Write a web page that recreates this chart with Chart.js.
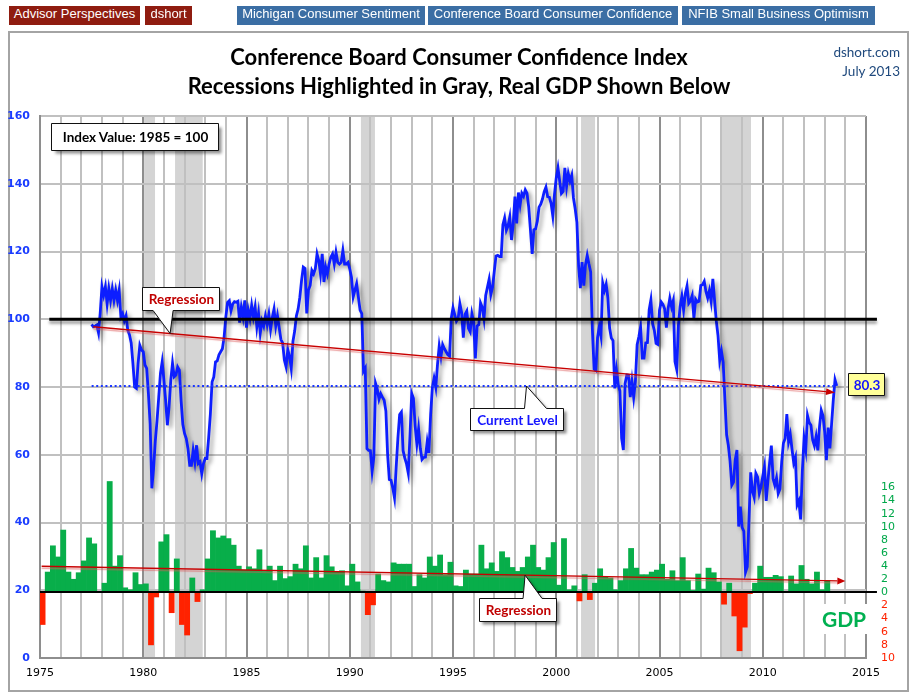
<!DOCTYPE html>
<html>
<head>
<meta charset="utf-8">
<script src="https://cdn.jsdelivr.net/npm/chart.js@4.4.1/dist/chart.umd.min.js"></script>
<style>
html,body{margin:0;padding:0;background:#fff;}
#wrap{position:relative;width:916px;height:694px;overflow:hidden;}
#c{position:absolute;left:0;top:0;}
.btn{position:absolute;top:6px;height:19px;line-height:19px;color:#fff;font:13px "Liberation Sans",Arial,sans-serif;text-align:center;white-space:nowrap;}
.red{background:#8f1c10;}
.blue{background:#3b6ea4;}
.title{position:absolute;left:0;width:918px;text-align:center;font:bold 22px Lato,sans-serif;line-height:26px;color:#000;white-space:nowrap;}
.src{position:absolute;right:16px;font:13.5px Lato,sans-serif;line-height:16px;color:#1f497d;text-align:right;white-space:nowrap;}
.lbl{position:absolute;text-align:center;font:bold 13.5px Lato,sans-serif;white-space:nowrap;}
</style>
</head>
<body>
<div id="wrap">
<canvas id="c" width="916" height="694"></canvas>
<div class="btn red" style="left:9px;width:131px;">Advisor Perspectives</div>
<div class="btn red" style="left:145px;width:47px;">dshort</div>
<div class="btn blue" style="left:237px;width:188px;">Michigan Consumer Sentiment</div>
<div class="btn blue" style="left:428px;width:250px;">Conference Board Consumer Confidence</div>
<div class="btn blue" style="left:682px;width:193px;">NFIB Small Business Optimism</div>
<div class="title" style="top:44px;">Conference Board Consumer Confidence Index</div>
<div class="title" style="top:73px;">Recessions Highlighted in Gray, Real GDP Shown Below</div>
<div class="src" style="top:44px;">dshort.com</div>
<div class="src" style="top:63px;">July 2013</div>
<div id="labels"></div>
</div>
<script>
// ---------------- DATA ----------------
// Conference Board Consumer Confidence Index (1985 = 100), monthly, first reading June 1977
const ccStartYear = 1977;
const ccStartMonth = 6;
const confidence = [
  98.5, 97.8, 98.0, 98.3, 96.0, 101.9, 109.6,                                   // 1977 Jun-Dec
  107.1,109.6,104.6,109.0,105.6,109.0,105.6,108.6,105.6,108.6,100.7,101.7,      // 1978
  99.5,101.0,96.8,95.4,93.0,87.0,80.0,79.6,87.0,92.3,90.9,90.4,                 // 1979
  86.5,85.5,78.0,69.2,50.1,56.0,64.0,70.0,77.0,84.0,87.4,82.0,                  // 1980
  76.1,68.7,74.1,82.0,87.0,83.0,83.5,85.9,85.0,76.0,69.0,66.3,                  // 1981
  64.8,61.8,56.9,56.9,61.3,57.9,62.8,57.4,57.9,54.4,57.4,58.9,                  // 1982
  58.9,65.0,72.0,81.5,83.0,87.4,87.7,89.5,90.4,91.3,94.8,100.7,                 // 1983
  105.0,105.5,102.5,104.5,105.2,105.0,105.3,99.0,103.5,100.7,105.6,97.5,        // 1984
  102.7,100.2,104.1,100.7,103.6,97.8,101.7,95.9,99.5,98.0,101.0,98.5,           // 1985
  101.5,97.0,100.5,103.0,98.0,101.0,97.5,94.0,93.0,88.0,86.0,91.0,              // 1986
  89.0,85.5,93.5,96.5,101.0,103.0,106.5,111.5,115.4,115.0,101.7,108.6,          // 1987
  110.0,114.4,113.4,114.9,119.3,117.3,113.4,119.3,111.0,115.4,113.4,116.3,      // 1988
  118.3,119.3,116.3,119.8,116.8,116.3,116.8,120.3,116.3,116.3,116.8,114.9,      // 1989
  112.4,106.6,108.6,110.5,106.6,102.7,101.7,84.7,85.6,61.8,61.3,61.2,           // 1990
  55.1,59.4,81.1,79.4,76.4,78.0,77.0,76.1,72.9,60.1,52.7,52.5,                  // 1991
  50.2,47.3,56.5,65.1,71.9,72.6,61.2,59.0,57.3,54.6,65.6,78.1,                  // 1992
  76.7,68.5,63.2,67.6,61.9,58.6,59.2,59.3,63.8,60.5,71.9,79.8,                  // 1993
  82.6,79.9,86.7,92.1,88.9,92.5,91.3,90.4,89.5,89.1,100.4,103.4,                // 1994
  101.4,99.4,100.2,104.6,102.0,94.6,101.4,102.4,97.3,96.3,101.6,99.2,           // 1995
  88.4,98.0,98.4,104.8,103.5,100.1,107.0,109.4,111.8,107.3,109.5,114.2,         // 1996
  118.7,118.9,118.5,118.5,127.9,129.9,126.3,127.6,130.2,123.4,128.1,136.2,      // 1997
  128.3,137.4,133.8,137.2,136.3,138.2,137.2,133.1,126.4,119.3,126.4,126.7,      // 1998
  128.9,133.1,134.0,135.5,137.7,139.0,136.2,136.0,134.2,130.5,137.0,141.7,      // 1999
  144.7,140.8,137.1,137.7,144.7,139.2,143.0,140.8,142.5,135.8,132.6,128.6,      // 2000
  115.7,109.2,116.9,109.9,116.1,118.9,116.3,114.0,97.0,85.3,84.9,94.6,          // 2001
  97.8,95.0,110.7,108.5,110.3,106.3,97.4,94.5,93.7,79.6,84.9,80.7,              // 2002
  78.8,64.8,61.4,81.0,83.6,83.5,77.0,81.7,77.0,81.7,92.5,94.8,                  // 2003
  97.7,88.5,88.5,93.0,93.1,102.8,105.7,98.7,96.7,92.9,92.6,102.7,               // 2004
  105.1,104.4,103.0,97.5,103.1,106.2,103.6,105.5,87.5,85.2,98.3,103.8,          // 2005
  106.8,102.7,107.5,109.8,104.7,105.4,107.0,100.2,105.9,105.1,105.3,110.0,      // 2006
  110.2,111.2,108.2,106.3,108.5,105.3,111.9,105.6,99.5,95.2,87.8,90.6,          // 2007
  87.3,76.4,65.9,62.8,58.1,51.0,51.9,58.5,61.4,38.8,44.7,38.6,                  // 2008
  37.4,25.3,26.9,40.8,54.8,49.3,47.4,54.5,53.4,48.7,50.6,53.6,                  // 2009
  56.5,46.4,52.3,57.7,62.7,52.9,51.0,53.2,48.6,49.9,57.8,63.4,                  // 2010
  64.8,72.0,63.8,66.0,61.7,57.6,59.2,45.2,46.4,40.9,55.2,64.8,                  // 2011
  61.5,71.6,69.5,68.7,64.4,62.7,65.4,61.3,68.4,73.1,71.5,66.7,                  // 2012
  58.4,68.0,61.9,69.0,76.2,82.1,80.3                                            // 2013 Jan-Jul
];

// Real GDP, quarterly % change (annualized), first quarter 1975 Q1
const gdpStartYear = 1975;
const gdpGrowth = [
  -4.9, 3.1, 7.1, 5.4,    // 1975
  9.5, 3.1, 2.0, 3.0,     // 1976
  4.8, 8.3, 7.4, 0.0,     // 1977
  1.4, 16.9, 4.0, 5.6,    // 1978
  0.7, 0.4, 3.0, 1.2,     // 1979
  1.3, -8.0, -0.7, 7.7,   // 1980
  8.8, -3.1, 5.1, -4.9,   // 1981
  -6.5, 2.2, -1.4, 0.4,   // 1982
  5.1, 9.4, 8.3, 8.6,     // 1983
  8.2, 7.2, 4.0, 3.4,     // 1984
  3.9, 3.6, 6.5, 3.2,     // 1985
  4.0, 1.8, 4.0, 2.1,     // 1986
  2.4, 4.3, 3.6, 7.1,     // 1987
  2.2, 5.3, 2.2, 5.6,     // 1988
  3.9, 3.2, 3.3, 1.0,     // 1989
  4.3, 1.6, 0.2, -3.4,    // 1990
  -1.9, 2.8, 1.8, 1.6,    // 1991
  4.5, 4.3, 4.3, 4.3,     // 1992
  0.9, 2.7, 2.2, 5.4,     // 1993
  4.0, 5.7, 2.7, 4.6,     // 1994
  1.0, 0.9, 3.4, 2.8,     // 1995
  2.8, 7.2, 3.6, 4.5,     // 1996
  3.2, 6.2, 5.3, 3.8,     // 1997
  3.2, 3.8, 5.4, 7.2,     // 1998
  3.8, 3.4, 5.3, 7.6,     // 1999
  1.1, 8.2, 0.4, 1.0,     // 2000
  -1.3, 2.7, -1.1, 1.4,   // 2001
  3.6, 2.4, 2.2, 0.4,     // 2002
  1.8, 3.6, 6.7, 3.7,     // 2003
  2.7, 2.7, 3.1, 3.4,     // 2004
  4.3, 2.0, 3.3, 1.8,     // 2005
  5.3, 1.8, 0.3, 2.8,     // 2006
  0.5, 3.7, 3.0, 1.6,     // 2007
  -1.8, 1.4, -3.6, -8.9,  // 2008
  -5.3, -0.2, 1.4, 4.0,   // 2009
  2.3, 2.3, 2.6, 2.4,     // 2010
  0.1, 2.5, 1.3, 4.1,     // 2011
  2.0, 1.3, 3.1, 0.4,     // 2012
  1.8                     // 2013
];

// NBER recessions (decimal years: start, end)
const recessions = [[1980.04,1980.57],[1981.54,1982.88],[1990.54,1991.22],[2001.2,2001.88],[2007.96,2009.43]];
const xLabelYears = [1975,1980,1985,1990,1995,2000,2005,2010,2015];
const indexTicks = [0,20,40,60,80,100,120,140,160];
const gdpTicks = [-10,-8,-6,-4,-2,0,2,4,6,8,10,12,14,16];
const baselineLevel = 100;
const currentLevel = 80.3;
const indexRegression = [[1977.58, 97.8],[2013.5, 78.4]];   // [year, index]
const gdpRegression = [[1975.08, 3.98],[2014.0, 1.73]];     // [year, GDP %]

// ---------------- BUILD ----------------
const ccPoints = confidence.map((v,i)=>({x: ccStartYear + (ccStartMonth + i)/12, y: v}));
const gdpPoints = gdpGrowth.map((v,i)=>({x: gdpStartYear + i*0.25 + 0.125, y: v}));
const lerp = (seg,t)=> seg[0][1] + (seg[1][1]-seg[0][1])*(t-seg[0][0])/(seg[1][0]-seg[0][0]);

const BLUE = '#0d1eff', GREEN = '#08ae4a', RED = '#ff2200', DARKRED = '#c80000';

const boxes = [
  {id:'idx', text:'Index Value: 1985 = 100', color:'#000', fill:'#fff', fixed:{left:51, top:123}, w:167, h:27},
  {id:'reg1', text:'Regression', color:'#c00000', fill:'#fff', axis:'y', year:1981.3, value:()=>lerp(indexRegression,1981.3), dx:-28, dy:-47, w:77, h:23, wedge:[-17,3]},
  {id:'cur', text:'Current Level', color:'#1414ff', fill:'#fff', axis:'y', year:1998.56, value:()=>currentLevel, dx:-57, dy:22, w:93, h:22, wedge:[-2,20]},
  {id:'reg2', text:'Regression', color:'#c00000', fill:'#fff', axis:'y2', year:1998.49, value:()=>lerp(gdpRegression,1998.49), dx:-46, dy:23, w:77, h:23, wedge:[-2,17]},
  {id:'last', text: currentLevel.toFixed(1), color:'#1414ff', fill:'#ffff99', axis:'y', year: ccPoints[ccPoints.length-1].x, value:()=>currentLevel, dx:11, dy:-13, w:36, h:22}
];

function boxGeom(chart,b){
  if (b.fixed) return {left:b.fixed.left, top:b.fixed.top, w:b.w, h:b.h};
  const tx = chart.scales.x.getPixelForValue(b.year);
  const ty = chart.scales[b.axis].getPixelForValue(b.value());
  return {tx, ty, left: Math.round(tx + b.dx), top: Math.round(ty + b.dy), w:b.w, h:b.h, wedge:b.wedge};
}

function drawBox(ctx,g,fill){
  const L=g.left+0.5, T=g.top+0.5, R=L+g.w, B=T+g.h;
  ctx.beginPath();
  if (g.wedge && g.ty > B) {
    ctx.moveTo(L,T); ctx.lineTo(R,T); ctx.lineTo(R,B);
    ctx.lineTo(g.tx+g.wedge[1],B); ctx.lineTo(g.tx,g.ty); ctx.lineTo(g.tx+g.wedge[0],B);
    ctx.lineTo(L,B);
  } else if (g.wedge) {
    ctx.moveTo(L,T); ctx.lineTo(g.tx+g.wedge[0],T); ctx.lineTo(g.tx,g.ty); ctx.lineTo(g.tx+g.wedge[1],T);
    ctx.lineTo(R,T); ctx.lineTo(R,B); ctx.lineTo(L,B);
  } else {
    ctx.rect(L,T,g.w,g.h);
  }
  ctx.closePath();
  ctx.save();
  ctx.shadowColor='rgba(0,0,0,0.45)'; ctx.shadowBlur=3; ctx.shadowOffsetX=3; ctx.shadowOffsetY=3;
  ctx.fillStyle=fill; ctx.fill();
  ctx.restore();
  ctx.strokeStyle='#111'; ctx.lineWidth=1; ctx.stroke();
}

function arrowLine(ctx,x0,y0,x1,y1,color,width,headLen,headW){
  const a=Math.atan2(y1-y0,x1-x0);
  const bx=x1-headLen*Math.cos(a), by=y1-headLen*Math.sin(a);
  ctx.save();
  ctx.shadowColor='rgba(220,90,90,0.55)'; ctx.shadowBlur=1; ctx.shadowOffsetY=2;
  ctx.strokeStyle=color; ctx.lineWidth=width;
  ctx.beginPath(); ctx.moveTo(x0,y0); ctx.lineTo(bx,by); ctx.stroke();
  ctx.restore();
  ctx.fillStyle=color;
  ctx.beginPath(); ctx.moveTo(x1,y1);
  ctx.lineTo(bx+headW/2*Math.sin(a), by-headW/2*Math.cos(a));
  ctx.lineTo(bx-headW/2*Math.sin(a), by+headW/2*Math.cos(a));
  ctx.closePath(); ctx.fill();
}

const decor = {
  id:'decor',
  beforeDraw(chart){
    const {ctx, chartArea:a, scales:{x}} = chart;
    ctx.save();
    ctx.strokeStyle='#a4a4a4'; ctx.lineWidth=2;
    ctx.strokeRect(9,32,899,659);
    ctx.fillStyle='#d4d4d4';
    recessions.forEach(([s,e])=>{
      const x0=x.getPixelForValue(s), x1=x.getPixelForValue(e);
      ctx.fillRect(x0,a.top,x1-x0,a.bottom-a.top);
    });
    ctx.restore();
  },
  beforeDatasetDraw(chart,args){
    if (args.meta.type==='line'){
      const c=chart.ctx; c.save();
      c.shadowColor='rgba(0,0,0,0.38)'; c.shadowBlur=4; c.shadowOffsetX=3; c.shadowOffsetY=3;
    }
  },
  afterDatasetDraw(chart,args){ if (args.meta.type==='line') chart.ctx.restore(); },
  afterDatasetsDraw(chart){
    const {ctx, scales:{x,y,y2}} = chart;
    ctx.save();
    // 100 baseline
    const yb=y.getPixelForValue(baselineLevel);
    ctx.save();
    ctx.shadowColor='rgba(0,0,0,0.4)'; ctx.shadowBlur=3; ctx.shadowOffsetY=3;
    ctx.strokeStyle='#000'; ctx.lineWidth=3;
    ctx.beginPath(); ctx.moveTo(x.getPixelForValue(1975.45),yb); ctx.lineTo(x.getPixelForValue(2015.53),yb); ctx.stroke();
    ctx.restore();
    // GDP zero line
    const y0=Math.round(y2.getPixelForValue(0));
    ctx.strokeStyle='#000'; ctx.lineWidth=2;
    ctx.beginPath(); ctx.moveTo(x.getPixelForValue(1975),y0); ctx.lineTo(x.getPixelForValue(2015.53),y0); ctx.stroke();
    // current level dotted line
    const yc=Math.round(y.getPixelForValue(currentLevel));
    ctx.strokeStyle='#1a36ff'; ctx.lineWidth=2; ctx.setLineDash([2,2.6]);
    ctx.beginPath(); ctx.moveTo(x.getPixelForValue(1977.5),yc); ctx.lineTo(x.getPixelForValue(2013.45),yc); ctx.stroke();
    ctx.setLineDash([]);
    // regressions
    arrowLine(ctx, x.getPixelForValue(indexRegression[0][0]), y.getPixelForValue(indexRegression[0][1]),
      x.getPixelForValue(indexRegression[1][0]), y.getPixelForValue(indexRegression[1][1]), DARKRED, 1.4, 9, 7);
    arrowLine(ctx, x.getPixelForValue(gdpRegression[0][0]), y2.getPixelForValue(gdpRegression[0][1]),
      x.getPixelForValue(gdpRegression[1][0]), y2.getPixelForValue(gdpRegression[1][1]), DARKRED, 1.4, 8, 7);
    ctx.restore();
  },
  afterDraw(chart){
    const ctx=chart.ctx;
    ctx.save();
    boxes.forEach(b=>drawBox(ctx, boxGeom(chart,b), b.fill));
    // GDP label background
    ctx.fillStyle='#fff'; ctx.fillRect(821,604,46,30);
    ctx.restore();
  }
};

const chart = new Chart(document.getElementById('c').getContext('2d'), {
  type:'line',
  data:{
    datasets:[
      {type:'line', label:'Consumer Confidence', data:ccPoints, yAxisID:'y', xAxisID:'x',
       borderColor:BLUE, borderWidth:2.8, pointRadius:0, tension:0, fill:false, order:0},
      {type:'bar', label:'Real GDP', data:gdpPoints, yAxisID:'y2', xAxisID:'x',
       backgroundColor:(c)=> (c.raw && c.raw.y<0) ? RED : GREEN,
       borderWidth:0, barPercentage:1, categoryPercentage:1, order:1}
    ]
  },
  options:{
    responsive:false, animation:false, events:[],
    layout:{padding:{top:116,left:0,right:0,bottom:0}},
    plugins:{legend:{display:false}, tooltip:{enabled:false}, title:{display:false}},
    scales:{
      x:{type:'linear', min:1975, max:2015, offset:false,
         grid:{offset:false, lineWidth:2, drawTicks:false,
               color:(c)=> (c.tick && xLabelYears.includes(c.tick.value)) ? '#8e8e8e' : '#c0c0c0'},
         border:{display:true, color:'#8e8e8e', width:2},
         ticks:{stepSize:1, autoSkip:false, maxRotation:0, minRotation:0, padding:9, color:'#000',
                font:{family:'DejaVu Sans', size:11},
                callback:(v)=> xLabelYears.includes(v) ? String(v) : ''},
         afterFit:(s)=>{ s.height=36; }},
      y:{type:'linear', position:'left', min:0, max:160,
         grid:{lineWidth:2, drawTicks:false, color:'#c0c0c0'},
         border:{display:true, color:'#8e8e8e', width:2},
         ticks:{stepSize:20, padding:10, color:'#1a3cff', font:{family:'DejaVu Sans', size:11, weight:'bold'},
                callback:(v)=> indexTicks.includes(v) ? String(v) : null},
         afterFit:(s)=>{ s.width=40; }},
      y2:{type:'linear', position:'right', min:-10, max:72.6, beginAtZero:false,
          grid:{display:false, drawTicks:false}, border:{display:false},
          ticks:{stepSize:2, padding:15, font:{family:'DejaVu Sans', size:11},
                 color:(c)=> (c.tick && c.tick.value<0) ? RED : '#00a84a',
                 callback:(v)=> gdpTicks.includes(v) ? String(Math.abs(v)) : null},
          afterFit:(s)=>{ s.width=50; }}
    }
  },
  plugins:[decor]
});

// text labels for annotation boxes (real text)
const holder=document.getElementById('labels');
boxes.forEach(b=>{
  const g=boxGeom(chart,b);
  const d=document.createElement('div');
  d.className='lbl';
  d.style.left=(g.left+1)+'px'; d.style.top=(g.top+1)+'px';
  d.style.width=(g.w)+'px'; d.style.height=(g.h)+'px';
  d.style.lineHeight=(g.h)+'px'; d.style.color=b.color;
  d.textContent=b.text;
  holder.appendChild(d);
});
const gdp=document.createElement('div');
gdp.className='lbl';
gdp.style.cssText+='left:821px;top:604px;width:46px;height:30px;line-height:30px;font-size:21px;color:#00b050;';
gdp.textContent='GDP';
holder.appendChild(gdp);
</script>
</body>
</html>
